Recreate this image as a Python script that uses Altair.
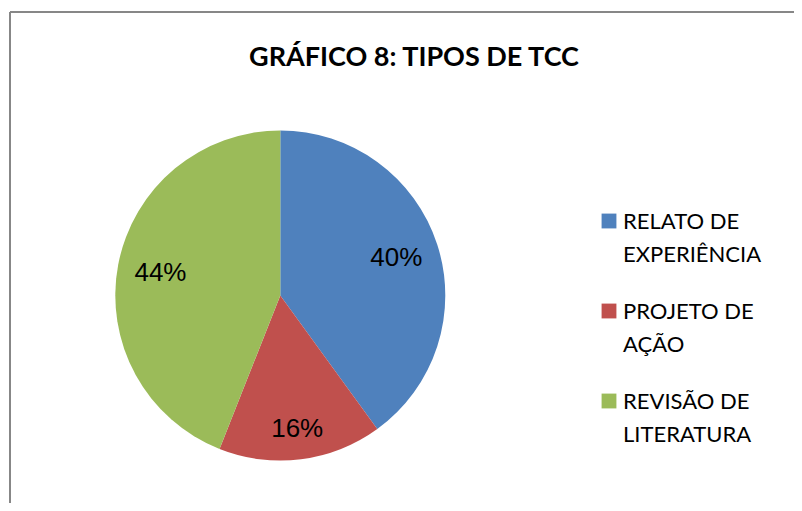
import altair as alt
import pandas as pd

# ---- data ----
categories = ["RELATO DE EXPERIÊNCIA", "PROJETO DE AÇÃO", "REVISÃO DE LITERATURA"]
values = [40, 16, 44]
labels = ["40%", "16%", "44%"]
colors = ["#4F81BD", "#C0504D", "#9BBB59"]
title_text = "GRÁFICO 8: TIPOS DE TCC"

df = pd.DataFrame({
    "categoria": categories,
    "valor": values,
    "rotulo": labels,
    "ordem": list(range(len(categories))),
})

# ---- layout constants (view coordinates) ----
W, H = 786, 495
CX, CY, R = 272.3, 287.5, 165
FRAME = "#878787"

color = alt.Color("categoria:N", scale=alt.Scale(domain=categories, range=colors), legend=None)
base = alt.Chart(df)

pie = base.mark_arc(outerRadius=R).encode(
    theta=alt.Theta("valor:Q", stack=True),
    order=alt.Order("ordem:Q"),
    color=color,
    x=alt.value(CX),
    y=alt.value(CY),
)

stacked = base.transform_stack(
    stack="valor", groupby=[], as_=["t0", "t1"], sort=[alt.SortField("ordem")]
).transform_calculate(tmid="(datum.t0 + datum.t1) / 2")

def pct_layer(filter_expr, radius):
    return stacked.transform_filter(filter_expr).mark_text(
        font="Liberation Sans", fontSize=26, color="black", radius=radius
    ).encode(
        theta=alt.Theta("tmid:Q"),
        text="rotulo:N",
        x=alt.value(CX),
        y=alt.value(CY),
    )

pct_big = pct_layer("datum.categoria != 'PROJETO DE AÇÃO'", 122)
pct_small = pct_layer("datum.categoria == 'PROJETO DE AÇÃO'", 135)

leg_y = alt.Y(
    "categoria:N", sort=categories, axis=None,
    scale=alt.Scale(type="point", range=[213, 393], padding=0),
)
leg_sq = base.mark_square(size=220, opacity=1, filled=True).encode(
    x=alt.value(601), y=leg_y, color=color
)
leg_txt = base.transform_calculate(
    lbl="replace(datum.categoria, ' DE ', ' DE|')"
).mark_text(
    align="left", baseline="alphabetic", dy=8, font="Lato", fontSize=22,
    lineHeight=33, lineBreak="|", color="black",
).encode(x=alt.value(615), y=leg_y, text="lbl:N")

one = alt.Chart(pd.DataFrame({"k": [0]}))
frame_v = one.mark_rule(color=FRAME, strokeWidth=2).encode(
    x=alt.value(2), y=alt.value(4), y2=alt.value(H)
)
frame_h = one.mark_rule(color=FRAME, strokeWidth=2).encode(
    x=alt.value(2), x2=alt.value(W), y=alt.value(4)
)

chart = alt.layer(frame_v, frame_h, pie, pct_big, pct_small, leg_sq, leg_txt).properties(
    width=W,
    height=H,
    title=alt.TitleParams(
        text=title_text, font="Lato", fontSize=27, fontWeight="bold", color="black",
        anchor="middle", frame="group", offset=-64, dx=13,
    ),
    autosize=alt.AutoSizeParams(type="none"),
    padding=0,
    background="white",
).configure_view(stroke=None)

chart.save("out.html", embed_options={"renderer": "svg", "actions": False})
